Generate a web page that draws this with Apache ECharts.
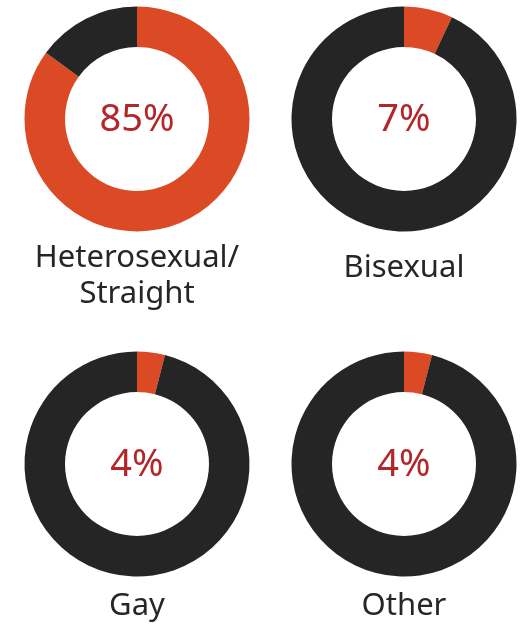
<!DOCTYPE html>
<html>
<head>
<meta charset="utf-8">
<title>Donuts</title>
<script src="https://cdn.jsdelivr.net/npm/echarts@6/dist/echarts.min.js"></script>
</head>
<body style="margin:0;background:#fff">
<div id="container" style="width:520px;height:626px"></div>
<script>
    // 数据
    var categories = ['Heterosexual/\nStraight', 'Bisexual', 'Gay', 'Other'];
    var percents = [85, 7, 4, 4];
    // 每个环的位置
    var centers = [[137, 119], [404, 119], [137, 464], [404, 464]];
    var labelY = [276, 268, 606, 606];

    var myChart = echarts.init(document.getElementById('container'));

    var series = [];
    var titles = [];
    for (var i = 0; i < categories.length; i++) {
        series.push({
            type: 'pie',
            center: centers[i],
            radius: [72, 112.5],
            startAngle: 90,
            clockwise: true,
            silent: true,
            label: {show: false},
            labelLine: {show: false},
            data: [
                {value: percents[i], itemStyle: {color: '#db4a24'}},
                {value: 100 - percents[i], itemStyle: {color: '#252525'}}
            ]
        });
        titles.push({
            text: percents[i] + '%',
            left: centers[i][0],
            top: centers[i][1] + 1,
            textAlign: 'center',
            textVerticalAlign: 'middle',
            padding: 0,
            textStyle: {fontFamily: 'Noto Sans', fontSize: 38, fontWeight: 'normal', color: '#b3272a'}
        });
        titles.push({
            text: categories[i],
            left: centers[i][0],
            top: labelY[i],
            textAlign: 'center',
            textVerticalAlign: 'middle',
            padding: 0,
            textStyle: {fontFamily: 'Noto Sans', fontSize: 31, fontWeight: 'normal', color: '#262626', lineHeight: 36}
        });
    }

    var option = {
        backgroundColor: '#ffffff',
        animation: false,
        title: titles,
        series: series
    };
    myChart.setOption(option);
</script>
</body>
</html>
